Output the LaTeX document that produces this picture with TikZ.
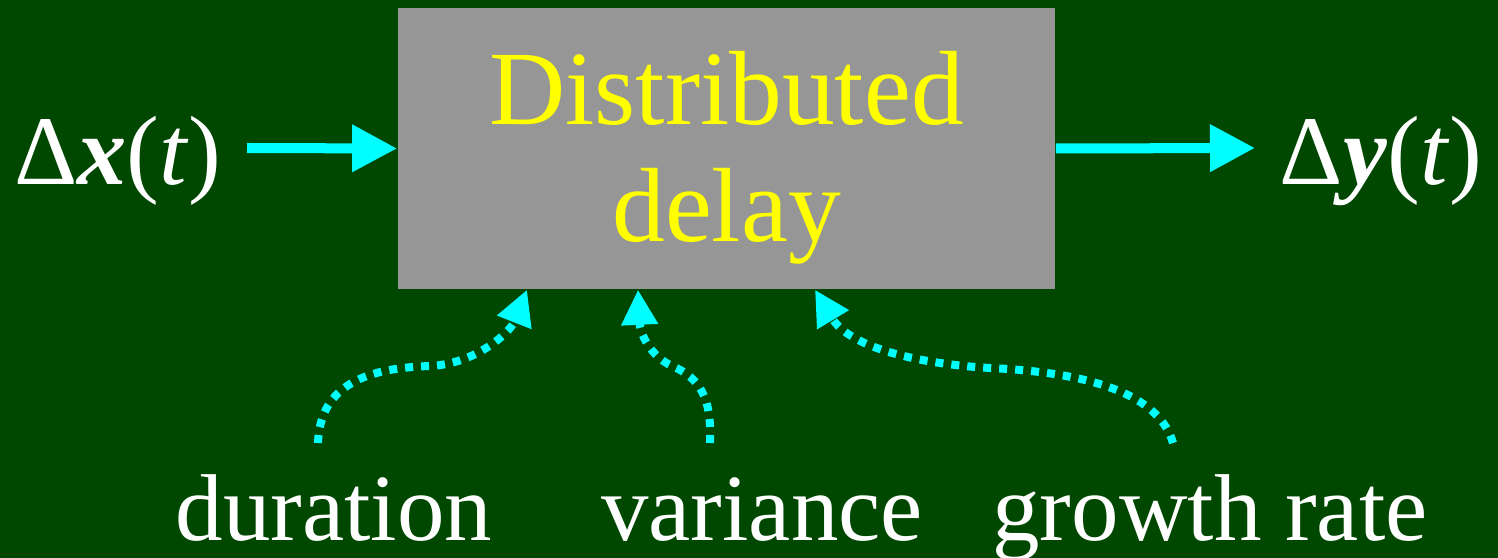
\documentclass[tikz,border=0pt]{standalone}
\usepackage{fontspec}
\setmainfont{Liberation Serif}
\usetikzlibrary{arrows.meta}
\definecolor{bggreen}{RGB}{0,71,0}
\definecolor{boxgray}{RGB}{150,150,150}
\definecolor{sigcyan}{RGB}{0,255,255}
\definecolor{delayyellow}{RGB}{255,255,0}

\begin{document}
\begin{tikzpicture}[
    x=0.01cm, y=0.01cm,
    delaybox/.style={fill=boxgray, draw=none, inner sep=0pt, minimum width=6.57cm, minimum height=2.81cm,
        align=center, text=delayyellow, font=\fontsize{30}{33}\selectfont, text height=1.9cm, text depth=0.05cm},
    signal/.style={text=white, inner sep=0pt, anchor=base, font=\fontsize{28}{32}\selectfont},
    param/.style={text=white, inner sep=0pt, anchor=base, font=\fontsize{27}{30}\selectfont},
    arr/.style={-{Triangle[length=0.45cm, width=0.45cm]}, line width=0.1cm, draw=sigcyan},
    dotarr/.style={-{Triangle[length=0.35cm, width=0.35cm]}, line width=0.08cm, draw=sigcyan,
        dash pattern=on 0.08cm off 0.08cm}
]

% Background
\useasboundingbox (0,0) rectangle (1498,558);
\fill[bggreen] (0,0) rectangle (1498,558);

% Delay block
\node[delaybox] (delay) at (726.5,409.5) {Distributed\\delay};

% Input and output signals
\node[signal] (dx) at (118,373) {Δ\textbf{\textit{x}}(\textit{t})};
\node[signal] (dy) at (1381,373) {Δ\textbf{\textit{y}}(\textit{t})};
\coordinate (inbeg) at (247,410);
\coordinate (outend) at (1255,410);

% Parameters
\node[param] (dur) at (334,18) {duration};
\node[param] (var) at (762,18) {variance};
\node[param] (grow) at (1210,18) {growth rate};
\coordinate (durtop) at (318,115);
\coordinate (vartop) at (710,115);
\coordinate (growtop) at (1173,115);

% Signal arrows
\draw[arr] (inbeg) -- (delay.west);
\draw[arr] (delay.east) -- (outend);

% Parameter arrows
\draw[dotarr] (durtop) .. controls (320,175) and (370,190) .. (430,192)
    .. controls (475,194) and (510,225) .. (527,0 |- delay.south);
\draw[dotarr] (vartop) .. controls (712,160) and (700,180) .. (672,192)
    .. controls (650,202) and (640,225) .. (638,0 |- delay.south);
\draw[dotarr] (growtop) .. controls (1160,160) and (1100,185) .. (990,190)
    .. controls (920,194) and (850,210) .. (815,0 |- delay.south);

\end{tikzpicture}
\end{document}
